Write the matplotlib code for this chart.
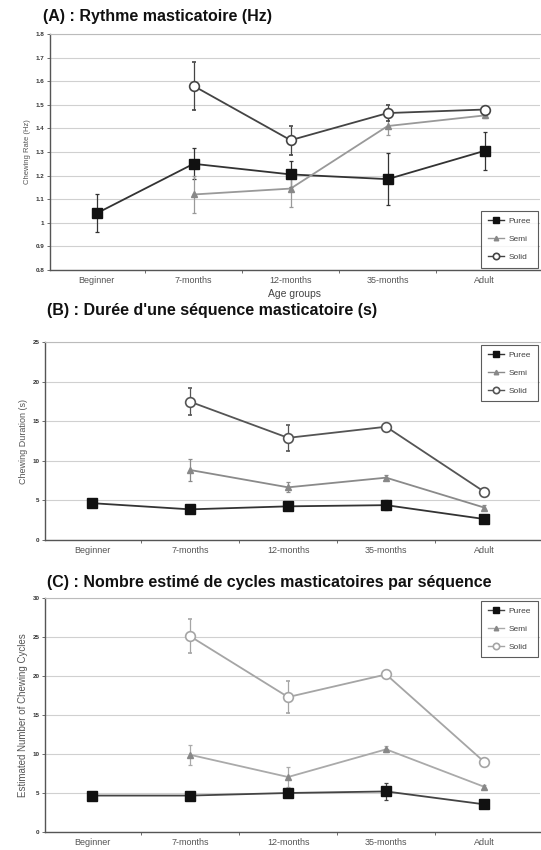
import numpy as np
import matplotlib
matplotlib.use("Agg")
import matplotlib.pyplot as plt
from matplotlib.lines import Line2D

# categories on the x axis
groups = ["Beginner", "7-months", "12-months", "35-months", "Adult"]

# (A) chewing rate (Hz); None = no data for that group
rate_puree = [1.04, 1.25, 1.205, 1.185, 1.305]
rate_puree_err = [0.08, 0.065, 0.055, 0.11, 0.08]
rate_semi = [None, 1.12, 1.145, 1.41, 1.455]
rate_semi_err = [None, 0.08, 0.08, 0.04, 0.01]
rate_solid = [None, 1.58, 1.35, 1.465, 1.48]
rate_solid_err = [None, 0.10, 0.062, 0.035, 0.01]

# (B) chewing duration (s)
dur_puree = [4.65, 3.87, 4.25, 4.4, 2.65]
dur_puree_err = [0.2, 0.2, 0.3, 0.6, 0.4]
dur_semi = [None, 8.84, 6.65, 7.87, 4.1]
dur_semi_err = [None, 1.35, 0.65, 0.3, 0.3]
dur_solid = [None, 17.46, 12.9, 14.3, 6.1]
dur_solid_err = [None, 1.7, 1.6, 0.3, 0.3]

# (C) estimated number of chewing cycles
cyc_puree = [4.67, 4.67, 5.0, 5.2, 3.55]
cyc_puree_err = [0.35, 0.2, 0.4, 1.1, 0.3]
cyc_semi = [None, 9.9, 7.05, 10.6, 5.8]
cyc_semi_err = [None, 1.3, 1.3, 0.4, 0.2]
cyc_solid = [None, 25.1, 17.3, 20.2, 9.0]
cyc_solid_err = [None, 2.2, 2.0, 0.3, 0.3]

plt.rcParams['font.family'] = ['Liberation Sans', 'DejaVu Sans']

W, H = 541, 850
fig = plt.figure(figsize=(W / 100, H / 100), dpi=100)


def series(vals, errs):
    x = [i for i, v in enumerate(vals) if v is not None]
    y = [v for v in vals if v is not None]
    e = [errs[i] for i in x]
    return x, y, e


def panel(box, title, title_xy, ylabel, ylfs, ylim, yticks, ytlabels, data, colors,
          legloc, xlabel=None):
    # box = (left, top, right, bottom) in pixels
    l, t, r, b = box
    ax = fig.add_axes([l / W, 1 - b / H, (r - l) / W, (b - t) / H])
    styles = [
        dict(marker="s", ms=7, mfc="#111111", mec="#111111", label="Puree"),
        dict(marker="^", ms=5, mfc="#888888", mec="#888888", label="Semi"),
        dict(marker="o", ms=7, mfc="white", mec=None, mew=1.2, label="Solid"),
    ]
    handles = []
    for (vals, errs), col, st in zip(data, colors, styles):
        x, y, e = series(vals, errs)
        if st["mec"] is None:
            st = dict(st, mec=col)
        ax.errorbar(x, y, yerr=e, color=col, lw=1.3, elinewidth=0.9,
                    capsize=1.5, capthick=0.9, zorder=3, **st)
        handles.append(Line2D([], [], color=col, lw=1.0, **dict(st, ms=st["ms"] * 0.65)))
    ax.set_xlim(-0.48, 4.57)
    ax.set_ylim(*ylim)
    ax.set_yticks(yticks)
    ax.set_yticklabels(ytlabels, fontsize=4.5, color="#333333", fontweight="bold")
    ax.set_xticks(range(len(groups)))
    ax.set_xticklabels(groups, fontsize=6.5, color="#555555")
    ax.set_xticks(np.arange(0.5, 4.0, 1), minor=True)
    ax.tick_params(axis="x", which="major", length=0, pad=4)
    ax.tick_params(axis="x", which="minor", length=2, color="#555555")
    ax.tick_params(axis="y", length=2, width=0.6, color="#555555", pad=2)
    ax.yaxis.grid(True, color="#d0d0d0", lw=0.8)
    ax.set_axisbelow(True)
    ax.spines["right"].set_visible(False)
    ax.spines["top"].set_color("#bbbbbb")
    for s in ("left", "bottom"):
        ax.spines[s].set_color("#555555")
        ax.spines[s].set_linewidth(1.0)
    ax.set_ylabel(ylabel, fontsize=ylfs, color="#555555", labelpad=3)
    if xlabel:
        ax.set_xlabel(xlabel, fontsize=7.5, color="#444444", labelpad=3)
    leg = ax.legend(handles=handles, loc=legloc, fontsize=6, frameon=True, fancybox=False,
                    handlelength=2.0, borderpad=0.8, labelspacing=1.2,
                    borderaxespad=0.3, handletextpad=0.5)
    leg.get_frame().set_edgecolor("#333333")
    leg.get_frame().set_linewidth(0.8)
    for txt in leg.get_texts():
        txt.set_color("#444444")
    fig.text(title_xy[0] / W, 1 - title_xy[1] / H, title,
             fontsize=11.5, fontweight="bold", color="#111111", ha="left", va="center")
    return ax


panel((50, 34, 540, 270), "(A) : Rythme masticatoire (Hz)", (43, 16),
      "Chewing Rate (Hz)", 5.5, (0.8, 1.8), np.arange(0.8, 1.81, 0.1),
      ["0.8", "0.9", "1", "1.1", "1.2", "1.3", "1.4", "1.5", "1.6", "1.7", "1.8"],
      [(rate_puree, rate_puree_err), (rate_semi, rate_semi_err), (rate_solid, rate_solid_err)],
      ["#333333", "#999999", "#444444"], "lower right", xlabel="Age groups")

panel((45, 342, 540, 540), "(B) : Durée d'une séquence masticatoire (s)", (47, 310),
      "Chewing Duration (s)", 6.5, (0, 25), np.arange(0, 26, 5),
      ["0", "5", "10", "15", "20", "25"],
      [(dur_puree, dur_puree_err), (dur_semi, dur_semi_err), (dur_solid, dur_solid_err)],
      ["#333333", "#8a8a8a", "#555555"], "upper right")

panel((45, 598, 540, 832), "(C) : Nombre estimé de cycles masticatoires par séquence", (47, 582),
      "Estimated Number of Chewing Cycles", 7, (0, 30), np.arange(0, 31, 5),
      ["0", "5", "10", "15", "20", "25", "30"],
      [(cyc_puree, cyc_puree_err), (cyc_semi, cyc_semi_err), (cyc_solid, cyc_solid_err)],
      ["#444444", "#aaaaaa", "#a5a5a5"], "upper right")

fig.savefig("out.png", dpi=100)
